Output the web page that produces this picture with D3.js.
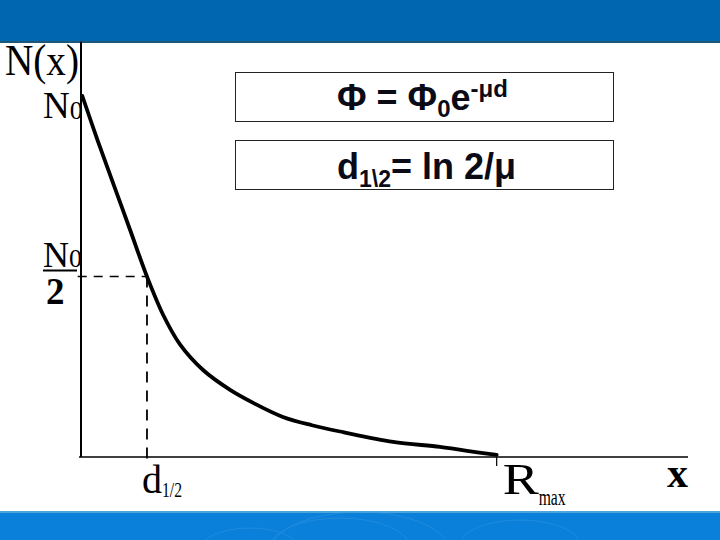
<!DOCTYPE html>
<html><head><meta charset="utf-8">
<script src="https://cdn.jsdelivr.net/npm/d3@7"></script>
<style>html,body{margin:0;padding:0;background:#fff;}svg{display:block;}</style>
</head><body><svg id="c" width="720" height="540"></svg>
<script>
// ---- data ----
const curveX = [0.02, 0.25, 0.5, 0.75, 1.0, 1.25, 1.5, 1.85, 2.26, 2.61, 3.06, 3.5, 3.97, 4.73, 5.44, 5.85, 6.30];
const curveN = [1.0, 0.878, 0.752, 0.626, 0.50, 0.392, 0.312, 0.241, 0.186, 0.150, 0.111, 0.088, 0.069, 0.042, 0.028, 0.017, 0.006];
const dHalf = 1.0;
const rMax = 6.30;
const halfLevel = 0.5;
const topLevel = 1.0;

const svg = d3.select("#c");
const x = d3.scaleLinear().domain([0, 9.2]).range([81, 688]);
const y = d3.scaleLinear().domain([0, 1]).range([457, 96]);

// header / footer bands
svg.append("rect").attr("x",0).attr("y",0).attr("width",720).attr("height",41).attr("fill","#0066b0");
svg.append("rect").attr("x",0).attr("y",41).attr("width",720).attr("height",2).attr("fill","#1c5878");
svg.append("rect").attr("x",0).attr("y",512).attr("width",720).attr("height",28).attr("fill","#0a80da");
svg.append("rect").attr("x",0).attr("y",511).attr("width",720).attr("height",2).attr("fill","#4aa6dc");
const sw = svg.append("g").attr("fill","none").attr("stroke","#3b98e0").attr("stroke-width",1).attr("opacity",0.45);
[[340,548,70,30],[360,552,90,40],[520,545,60,25],[250,550,50,22]].forEach(e=>{
  sw.append("ellipse").attr("cx",e[0]).attr("cy",e[1]).attr("rx",e[2]).attr("ry",e[3]);
});

// axes
const xAxis = d3.axisBottom(x).tickValues([]).tickSizeOuter(0);
svg.append("g").attr("transform",`translate(0,${y(0)})`).call(xAxis)
  .call(g=>g.select(".domain").attr("stroke","#000").attr("stroke-width",1.6).attr("d",`M${x(-0.03)},0H${x(9.2)}`));
const yAxis = d3.axisLeft(y).tickValues([]).tickSizeOuter(0);
svg.append("g").attr("transform",`translate(${x(0)},0)`).call(yAxis)
  .call(g=>g.select(".domain").attr("stroke","#000").attr("stroke-width",2).attr("d",`M0,${y(0)}V${y(1.15)}`));

// dashed guides
svg.append("line").attr("x1",x(-0.05)).attr("x2",x(dHalf)).attr("y1",y(halfLevel)).attr("y2",y(halfLevel))
  .attr("stroke","#000").attr("stroke-width",1.3).attr("stroke-dasharray","9,7");
svg.append("line").attr("x1",x(dHalf)).attr("x2",x(dHalf)).attr("y1",y(halfLevel)).attr("y2",y(-0.018))
  .attr("stroke","#000").attr("stroke-width",1.8).attr("stroke-dasharray","11,8");
svg.append("line").attr("x1",x(rMax)).attr("x2",x(rMax)).attr("y1",y(0)).attr("y2",y(-0.025))
  .attr("stroke","#000").attr("stroke-width",1.2);

// curve
const pts = curveX.map((v,i)=>[v,curveN[i]]);
svg.append("path").datum(pts)
  .attr("d", d3.line().x(d=>x(d[0])).y(d=>y(d[1])).curve(d3.curveCatmullRom.alpha(0.5)))
  .attr("fill","none").attr("stroke","#000").attr("stroke-width",3.8).attr("stroke-linejoin","round").attr("stroke-linecap","round");

// serif labels
const serif = "'Liberation Serif','Times New Roman',serif";
svg.append("text").attr("x",5).attr("y",75).attr("font-family",serif).attr("font-size",44)
  .attr("textLength",74).attr("lengthAdjust","spacingAndGlyphs").text("N(x)");
const n0 = svg.append("text").attr("x",43).attr("y",y(topLevel)+22).attr("font-family",serif).attr("font-size",37);
n0.append("tspan").text("N");
n0.append("tspan").attr("font-size",26).attr("dy",1).text("0");
const n2 = svg.append("text").attr("x",43).attr("y",y(halfLevel)-10).attr("font-family",serif).attr("font-size",36);
n2.append("tspan").text("N");
n2.append("tspan").attr("font-size",26).text("0");
svg.append("line").attr("x1",43).attr("x2",77).attr("y1",y(halfLevel)-6).attr("y2",y(halfLevel)-6).attr("stroke","#000").attr("stroke-width",2);
svg.append("text").attr("x",46).attr("y",y(halfLevel)+27).attr("font-family",serif).attr("font-size",37).attr("font-weight","bold").text("2");

const dl = svg.append("text").attr("x",x(dHalf)-5).attr("y",493).attr("font-family",serif).attr("font-size",40);
dl.append("tspan").text("d");
dl.append("tspan").attr("font-size",22).attr("dy",4).attr("textLength",20).attr("lengthAdjust","spacingAndGlyphs").text("1/2");
const rl = svg.append("text").attr("x",x(rMax)+6).attr("y",494).attr("font-family",serif).attr("font-size",45);
rl.append("tspan").attr("textLength",36).attr("lengthAdjust","spacingAndGlyphs").text("R");
rl.append("tspan").attr("font-size",23).attr("dy",11).attr("textLength",27).attr("lengthAdjust","spacingAndGlyphs").text("max");
svg.append("text").attr("x",667).attr("y",487).attr("font-family",serif).attr("font-size",42).attr("font-weight","bold").text("x");

// formula boxes
const sans = "'Liberation Sans',Arial,sans-serif";
svg.append("rect").attr("x",235.5).attr("y",72.5).attr("width",378).attr("height",49).attr("fill","#fff").attr("stroke","#222").attr("stroke-width",1);
svg.append("rect").attr("x",235.5).attr("y",140.5).attr("width",378).attr("height",49).attr("fill","#fff").attr("stroke","#222").attr("stroke-width",1);

const f1 = svg.append("text").attr("x",337).attr("y",110).attr("font-family",sans).attr("font-weight","bold").attr("font-size",36).attr("fill","#0b0b18");
f1.append("tspan").text("Φ =  Φ");
f1.append("tspan").attr("font-size",24).attr("dy",7).text("0");
f1.append("tspan").attr("dy",-7).text("e");
f1.append("tspan").attr("font-size",24).attr("dy",-13).text("-μd");

const f2 = svg.append("text").attr("x",337).attr("y",179).attr("font-family",sans).attr("font-weight","bold").attr("font-size",36).attr("fill","#0b0b18");
f2.append("tspan").text("d");
f2.append("tspan").attr("font-size",23).attr("dy",8).text("1\\2");
f2.append("tspan").attr("dy",-8).text("= ln 2/μ");
</script></body></html>
